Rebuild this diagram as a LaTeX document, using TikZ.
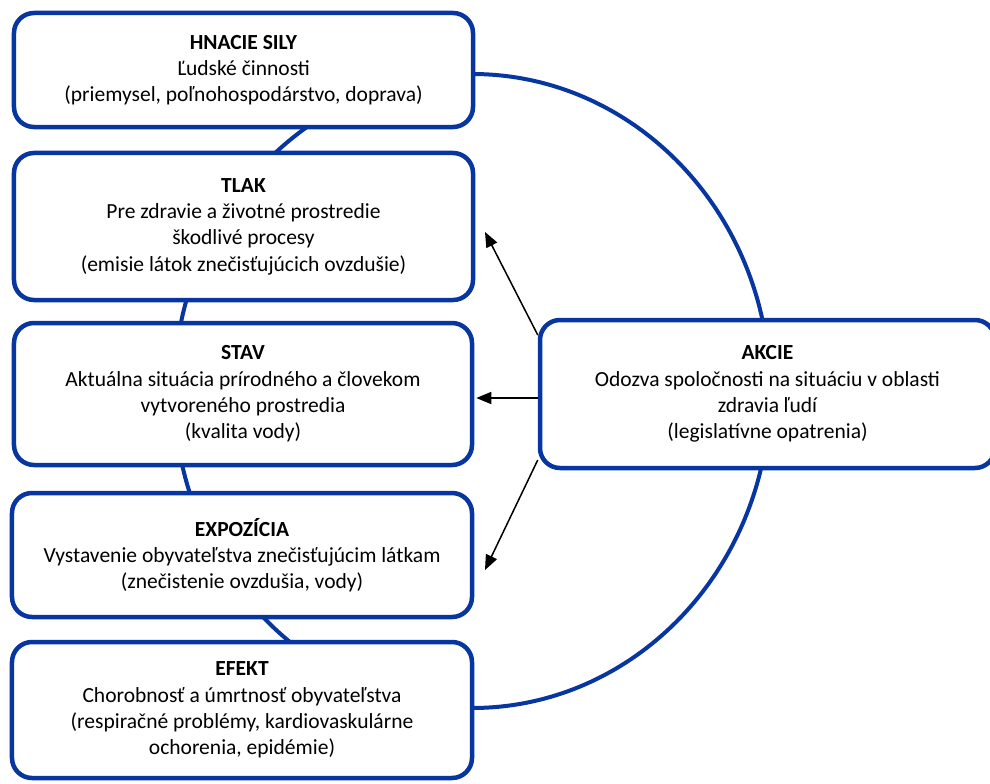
\documentclass[tikz,border=0pt]{standalone}
\usepackage{fontspec}
\setmainfont{Carlito}
\usetikzlibrary{arrows.meta}
\definecolor{boxblue}{RGB}{8,54,160}
\tikzset{
  box/.style={draw=boxblue, line width=4.5bp, rounded corners=20bp, fill=white,
    rectangle, align=center, inner sep=0pt,
    font=\fontsize{21.6}{26.4}\selectfont},
  ring/.style={draw=boxblue, line width=4bp},
  arr/.style={draw=black, line width=1.5bp, -{Triangle[length=15bp,width=12bp]}}
}
\begin{document}
\begin{tikzpicture}[x=1bp,y=-1bp]
\useasboundingbox (0,0) rectangle (990,784);
\fill[white] (0,0) rectangle (990,784);
% the cycle ring behind the boxes
\draw[ring] (472,391) ellipse [x radius=298, y radius=317];
% boxes
\node[box, minimum width=459bp, minimum height=114bp] (hn) at (243.5,70)
  {\textbf{HNACIE SILY}\\ Ľudské činnosti\\ (priemysel, poľnohospodárstvo, doprava)};
\node[box, minimum width=459bp, minimum height=147bp] (tlak) at (243.5,226.5)
  {\textbf{TLAK}\\ Pre zdravie a životné prostredie\\ škodlivé procesy\\ (emisie látok znečisťujúcich ovzdušie)};
\node[box, minimum width=458bp, minimum height=142bp] (stav) at (243,394)
  {\textbf{STAV}\\ Aktuálna situácia prírodného a človekom\\ vytvoreného prostredia\\ (kvalita vody)};
\node[box, minimum width=460bp, minimum height=124bp] (expo) at (242,555)
  {\textbf{EXPOZÍCIA}\\ Vystavenie obyvateľstva znečisťujúcim látkam\\ (znečistenie ovzdušia, vody)};
\node[box, minimum width=460bp, minimum height=136bp] (efekt) at (242,710)
  {\textbf{EFEKT}\\ Chorobnosť a úmrtnosť obyvateľstva\\ (respiračné problémy, kardiovaskulárne\\ ochorenia, epidémie)};
\node[box, minimum width=455bp, minimum height=148bp] (akcie) at (767.5,394)
  {\textbf{AKCIE}\\ Odozva spoločnosti na situáciu v oblasti\\ zdravia ľudí\\ (legislatívne opatrenia)};
% arrow targets
\coordinate (t1) at (485,232);
\coordinate (t3) at (485,570);
\draw[arr] ([yshift=59bp]akcie.west) -- (t1);
\draw[arr] ([yshift=-4bp]akcie.west) -- ([yshift=-4bp,xshift=2bp]stav.east);
\draw[arr] ([yshift=-66bp]akcie.west) -- (t3);
\end{tikzpicture}
\end{document}
